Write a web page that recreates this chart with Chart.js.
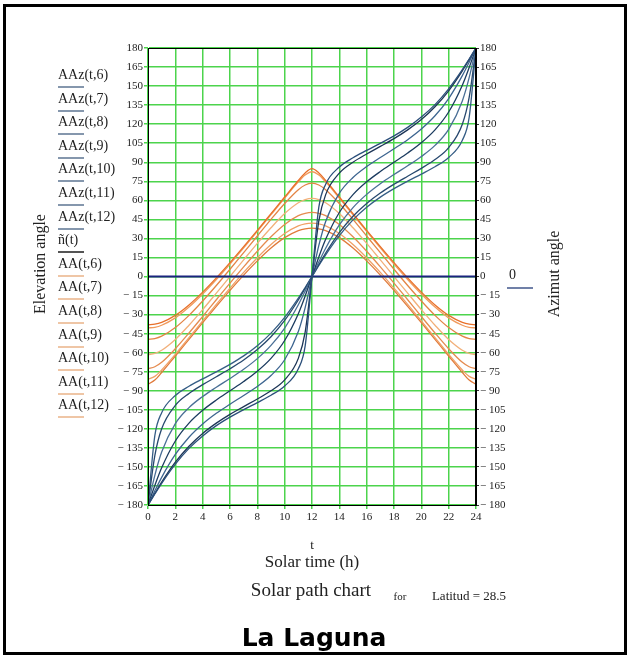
<!DOCTYPE html>
<html>
<head>
<meta charset="utf-8">
<script src="https://cdn.jsdelivr.net/npm/chart.js@4.4.1/dist/chart.umd.min.js"></script>
<style>
  html, body { margin: 0; padding: 0; background: #fff; }
  body { width: 628px; height: 655px; position: relative; overflow: hidden; font-family: "Liberation Serif", serif; color: #222; }
  #frame { position: absolute; left: 3px; top: 4px; width: 618px; height: 645px; border: 3px solid #000; }
  #chart { position: absolute; left: 0; top: 0; }
  .t { position: absolute; white-space: nowrap; transform: translate(-50%, -50%); }
  .lg { position: absolute; white-space: nowrap; font-size: 14px; transform: translateY(-50%); }
  .ln { position: absolute; height: 2px; width: 26px; }
</style>
</head>
<body>
<div id="frame"></div>
<canvas id="chart" width="628" height="655"></canvas>
<div id="legend"></div>
<div class="t" style="left:40px; top:264px; font-size:16px; transform:translate(-50%,-50%) rotate(-90deg);">Elevation angle</div>
<div class="t" style="left:554px; top:274px; font-size:16px; transform:translate(-50%,-50%) rotate(-90deg);">Azimut angle</div>
<div class="t" style="left:312px; top:545px; font-size:13px;">t</div>
<div class="t" style="left:312px; top:562px; font-size:17px;">Solar time (h)</div>
<div class="t" style="left:311px; top:590px; font-size:19px;">Solar path chart</div>
<div class="t" style="left:400px; top:596px; font-size:11px;">for</div>
<div class="t" style="left:469px; top:596px; font-size:13px;">Latitud = 28.5</div>
<div class="t" style="left:314px; top:637px; font-size:25px; font-weight:bold; font-family:'DejaVu Sans', sans-serif; color:#000;">La Laguna</div>
<script>
// Solar time (h) samples, denser near noon and midnight
const hours = [0, 0.5, 1, 2, 3, 4, 5, 6, 7, 8, 9, 10, 11, 11.5, 12, 12.5, 13, 14, 15, 16, 17, 18, 19, 20, 21, 22, 23, 23.5, 24];
const months = [6, 7, 8, 9, 10, 11, 12];
const yTicks = { min: -180, max: 180, step: 15 };
const xTicks = { min: 0, max: 24, step: 2 };

// Azimuth angle AAz(t, m)
const az6 = [-180, -171.3, -162.9, -147.8, -135.4, -125.6, -117.5, -110.8, -104.9, -99.3, -93.5, -86.2, -72.7, -54.6, 0, 54.6, 72.7, 86.2, 93.5, 99.3, 104.9, 110.8, 117.5, 125.6, 135.4, 147.8, 162.9, 171.3, 180];
const az7 = [-180, -170.9, -162.0, -146.3, -133.7, -123.6, -115.5, -108.6, -102.5, -96.5, -90.0, -81.4, -64.5, -43.9, 0, 43.9, 64.5, 81.4, 90.0, 96.5, 102.5, 108.6, 115.5, 123.6, 133.7, 146.3, 162.0, 170.9, 180];
const az8 = [-180, -168.8, -158.2, -140.2, -126.6, -116.2, -107.8, -100.6, -93.7, -86.6, -78.0, -65.6, -43.4, -24.5, 0, 24.5, 43.4, 65.6, 78.0, 86.6, 93.7, 100.6, 107.8, 116.2, 126.6, 140.2, 158.2, 168.8, 180];
const az9 = [-180, -164.6, -150.7, -129.6, -115.5, -105.4, -97.3, -90, -82.7, -74.6, -64.5, -50.4, -29.3, -15.4, 0, 15.4, 29.3, 50.4, 64.5, 74.6, 82.7, 90, 97.3, 105.4, 115.5, 129.6, 150.7, 164.6, 180];
const az10 = [-180, -156.6, -138.3, -115.9, -103.3, -94.5, -87.2, -80.3, -73.1, -64.7, -54.3, -40.6, -22.3, -11.5, 0, 11.5, 22.3, 40.6, 54.3, 64.7, 73.1, 80.3, 87.2, 94.5, 103.3, 115.9, 138.3, 156.6, 180];
const az11 = [-180, -141.1, -120.0, -101.5, -92.1, -85.2, -79.0, -72.7, -65.8, -57.6, -47.5, -34.6, -18.5, -9.4, 0, 9.4, 18.5, 34.6, 47.5, 57.6, 65.8, 72.7, 79.0, 85.2, 92.1, 101.5, 120.0, 141.1, 180];
const az12 = [-180, -125.4, -107.3, -93.8, -86.5, -80.7, -75.1, -69.2, -62.5, -54.5, -44.6, -32.2, -17.1, -8.7, 0, 8.7, 17.1, 32.2, 44.6, 54.5, 62.5, 69.2, 75.1, 80.7, 86.5, 93.8, 107.3, 125.4, 180];

// Elevation angle AA(t, m)
const el6 = [-38.1, -37.6, -36.1, -30.6, -22.4, -12.3, -1.1, 10.9, 23.5, 36.4, 49.5, 62.6, 75.6, 81.6, 84.9, 81.6, 75.6, 62.6, 49.5, 36.4, 23.5, 10.9, -1.1, -12.3, -22.4, -30.6, -36.1, -37.6, -38.1];
const el7 = [-40.5, -40.0, -38.4, -32.6, -24.1, -13.8, -2.4, 9.8, 22.5, 35.5, 48.7, 61.8, 74.5, 79.9, 82.5, 79.9, 74.5, 61.8, 48.7, 35.5, 22.5, 9.8, -2.4, -13.8, -24.1, -32.6, -38.4, -40.0, -40.5];
const el8 = [-49.5, -48.9, -47.0, -40.2, -30.6, -19.3, -7.1, 5.7, 18.8, 31.9, 45.0, 57.5, 68.4, 72.1, 73.5, 72.1, 68.4, 57.5, 45.0, 31.9, 18.8, 5.7, -7.1, -19.3, -30.6, -40.2, -47.0, -48.9, -49.5];
const el9 = [-61.5, -60.6, -58.1, -49.6, -38.4, -26.1, -13.1, 0, 13.1, 26.1, 38.4, 49.6, 58.1, 60.6, 61.5, 60.6, 58.1, 49.6, 38.4, 26.1, 13.1, 0, -13.1, -26.1, -38.4, -49.6, -58.1, -60.6, -61.5];
const el10 = [-72.5, -71.1, -67.6, -56.9, -44.5, -31.5, -18.3, -5.2, 7.6, 19.9, 31.3, 41.0, 47.9, 49.8, 50.5, 49.8, 47.9, 41.0, 31.3, 19.9, 7.6, -5.2, -18.3, -31.5, -44.5, -56.9, -67.6, -71.1, -72.5];
const el11 = [-81.0, -78.7, -73.6, -61.3, -48.2, -35.0, -21.9, -9.2, 3.2, 14.8, 25.2, 33.9, 39.9, 41.5, 42.0, 41.5, 39.9, 33.9, 25.2, 14.8, 3.2, -9.2, -21.9, -35.0, -48.2, -61.3, -73.6, -78.7, -81.0];
const el12 = [-84.9, -81.6, -75.6, -62.6, -49.5, -36.4, -23.5, -10.9, 1.1, 12.3, 22.4, 30.6, 36.1, 37.6, 38.1, 37.6, 36.1, 30.6, 22.4, 12.3, 1.1, -10.9, -23.5, -36.4, -49.5, -62.6, -75.6, -81.6, -84.9];

// ñ(t) horizon line
const zeroHours = [0, 24];
const zeroValues = [0, 0];

const azSeries = [az6, az7, az8, az9, az10, az11, az12];
const elSeries = [el6, el7, el8, el9, el10, el11, el12];
const azColors = ['#2b4f7a', '#1d3557', '#3d6590', '#1b3b5f', '#4a6f96', '#27486e', '#355d85'];
const elColors = ['#e8702a', '#f09a5c', '#e38445', '#f2b07a', '#e58b4f', '#f0a066', '#e07a3a'];
const gridGreen = '#4cd44c';

function pts(xs, ys) { return xs.map((x, i) => ({ x: x, y: ys[i] })); }

const datasets = [];
azSeries.forEach((s, i) => datasets.push({
  label: 'AAz(t,' + months[i] + ')', data: pts(hours, s),
  borderColor: azColors[i], borderWidth: 1.3, pointRadius: 0, cubicInterpolationMode: 'monotone', fill: false
}));
datasets.push({
  label: 'ñ(t)', data: pts(zeroHours, zeroValues),
  borderColor: '#1a237e', borderWidth: 2.2, pointRadius: 0, fill: false
});
elSeries.forEach((s, i) => datasets.push({
  label: 'AA(t,' + months[i] + ')', data: pts(hours, s),
  borderColor: elColors[i], borderWidth: 1.3, pointRadius: 0, cubicInterpolationMode: 'monotone', fill: false
}));

// legend on the left, Mathcad style
const legend = document.getElementById('legend');
const legendNames = months.map(m => 'AAz(t,' + m + ')').concat(['ñ(t)'], months.map(m => 'AA(t,' + m + ')'));
legendNames.forEach((name, i) => {
  const y = 75 + i * 23.6;
  const lab = document.createElement('div');
  lab.className = 'lg'; lab.style.left = '58px'; lab.style.top = y + 'px'; lab.textContent = name;
  legend.appendChild(lab);
  const ln = document.createElement('div');
  ln.className = 'ln'; ln.style.left = '58px'; ln.style.top = (y + 11) + 'px';
  ln.style.background = i < 7 ? '#8597ad' : (i === 7 ? '#555' : '#efc6a6');
  legend.appendChild(ln);
});
const rl = document.createElement('div');
rl.className = 'lg'; rl.style.left = '509px'; rl.style.top = '275px'; rl.textContent = '0';
legend.appendChild(rl);
const rln = document.createElement('div');
rln.className = 'ln'; rln.style.left = '507px'; rln.style.top = '287px'; rln.style.background = '#7080a8';
legend.appendChild(rln);

const fmt = v => v < 0 ? '\u2212 ' + Math.abs(v) : String(v);
const tickFont = { family: 'Liberation Serif', size: 11 };

const frameBox = {
  id: 'frameBox',
  afterDraw(chart) {
    const a = chart.chartArea, ctx = chart.ctx;
    ctx.save();
    ctx.strokeStyle = '#000';
    ctx.lineWidth = 1;
    ctx.strokeRect(a.left + 0.5, a.top + 0.5, a.right - a.left - 1, a.bottom - a.top);
    ctx.restore();
  }
};

new Chart(document.getElementById('chart').getContext('2d'), {
  type: 'line',
  data: { datasets: datasets },
  options: {
    responsive: false,
    animation: false,
    layout: { padding: { left: 100, right: 112, top: 48, bottom: 128 } },
    plugins: { legend: { display: false }, tooltip: { enabled: false } },
    scales: {
      x: {
        type: 'linear', min: xTicks.min, max: xTicks.max,
        ticks: { stepSize: xTicks.step, color: '#222', font: tickFont, padding: 2, maxRotation: 0 },
        grid: { color: gridGreen, lineWidth: 1.5, tickLength: 4 },
        border: { color: '#000', width: 1 },
        afterFit(s) { s.height = 22; }
      },
      y: {
        position: 'left', min: yTicks.min, max: yTicks.max,
        ticks: { stepSize: yTicks.step, color: '#222', font: tickFont, padding: 1, callback: fmt },
        grid: { color: gridGreen, lineWidth: 1.5, tickLength: 4 },
        border: { color: '#000', width: 1 },
        afterFit(s) { s.width = 48; }
      },
      y2: {
        position: 'right', min: yTicks.min, max: yTicks.max,
        ticks: { stepSize: yTicks.step, color: '#222', font: tickFont, padding: 1, callback: fmt },
        grid: { drawOnChartArea: false, color: '#333', tickLength: 3 },
        border: { color: '#000', width: 1 },
        afterFit(s) { s.width = 40; }
      }
    }
  },
  plugins: [frameBox]
});
</script>
</body>
</html>
